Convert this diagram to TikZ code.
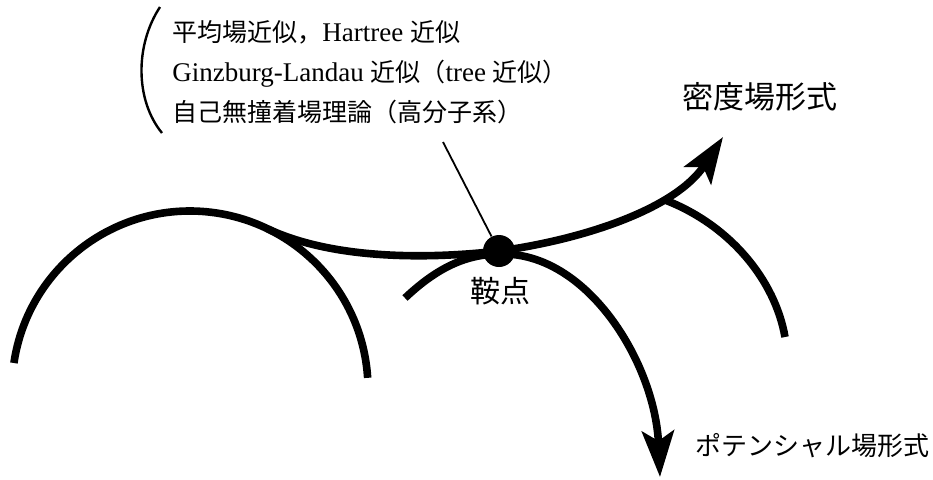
\documentclass[tikz,border=0pt]{standalone}
\usepackage{fontspec}
\setmainfont{Liberation Serif}[Scale=1.08]
\newfontfamily\jp{Noto Sans CJK JP}
\usetikzlibrary{arrows.meta}

\tikzset{
  branch/.style={line width=3.8pt},
  flow/.style={branch, -{Stealth[length=23pt, width=16pt, inset=5pt]}},
  tag/.style={inner sep=0pt, font=\jp\fontsize{#1}{#1}\selectfont},
}

\begin{document}
\begin{tikzpicture}[x=0.5pt, y=-0.5pt]
			%%%%% START %%%%%
			\useasboundingbox (0, 0) rectangle (933, 479);
			
			% left branch and right branch
			\draw[branch] (190, 389) ++(-171.6:178) arc (-171.6:-3.6:178);
			\draw[branch] (665, 200) .. controls (730, 225) and (775, 280) .. (785, 337);
			
			% saddle point
			\node[circle, fill=black, inner sep=0pt, minimum size=16pt] (saddle) at (499, 251) {};
			\node[tag=15] (saddlelabel) at (500, 291) {鞍点};
			
			% density field path
			\draw[flow] (268, 229) .. controls (330, 258) and (420, 260) .. (saddle.center)
			  .. controls (580, 240) and (675, 210) .. (723, 137);
			\node[tag=15.5] (density) at (760, 97) {密度場形式};
			
			% potential field path
			\draw[flow] (405, 298) .. controls (440, 265) and (470, 253) .. (505, 254)
			  .. controls (590, 256) and (655, 365) .. (660, 477);
			\node[tag=13] (potential) at (812, 446) {ポテンシャル場形式};
			
			% approximations
			\node[anchor=west, align=left, inner sep=0pt, font=\fontsize{12.5}{20}\selectfont] (approx) at (172, 72)
			  {{\jp 平均場近似，}Hartree {\jp 近似}\\
			   Ginzburg-Landau {\jp 近似（}tree {\jp 近似）}\\
			   {\jp 自己無撞着場理論（高分子系）}};
			\draw[line width=1.2pt] (160, 7) .. controls (135, 45) and (135, 100) .. (162, 133);
			\coordinate (lead) at (443, 142);
			\draw[line width=0.9pt] (lead) -- (saddle);
			
			%%%%% END %%%%%
		\end{tikzpicture}
\end{document}
